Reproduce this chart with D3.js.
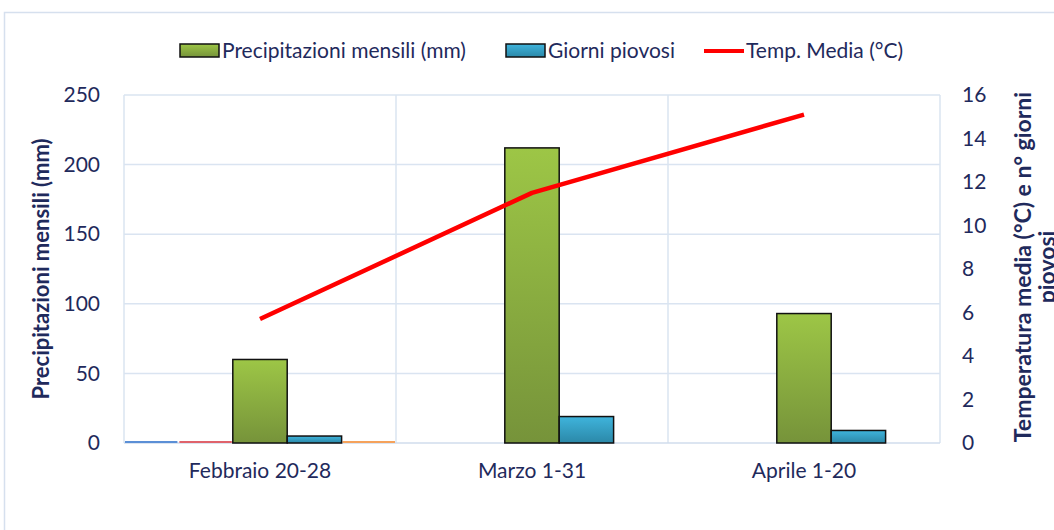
<!DOCTYPE html>
<html>
<head>
<meta charset="utf-8">
<script src="https://cdn.jsdelivr.net/npm/d3@7"></script>
<style>
  body { margin: 0; background: #fff; }
  svg { display: block; font-family: Lato, "Open Sans", sans-serif; }
</style>
</head>
<body>
<svg id="chart" width="1054" height="530"></svg>
<script>
// data
const categories = ["Febbraio 20-28", "Marzo 1-31", "Aprile 1-20"]
const precipitazioni = [60, 212, 93]
const giorniPiovosi = [5, 19, 9]
const tempMedia = [5.7, 11.5, 15.1]
// empty series that only show as a flat line on the first category
const serieVuota1 = [0, null, null]
const serieVuota2 = [0, null, null]
const serieVuota3 = [0, null, null]
const leftTicks = [0, 50, 100, 150, 200, 250]
const rightTicks = [0, 2, 4, 6, 8, 10, 12, 14, 16]

const svg = d3.select("#chart")
const textColor = "#1f2a5c"
const fontSize = 21

const margin = { left: 124, right: 114, top: 95, bottom: 87 }
const width = 1054 - margin.left - margin.right
const height = 530 - margin.top - margin.bottom

// outer frame
svg.append("rect")
    .attr("x", 4.5).attr("y", 12.5)
    .attr("width", 1060).attr("height", 530)
    .attr("fill", "none")
    .attr("stroke", "#d6e0ee")
    .attr("stroke-width", 1.5)

const defs = svg.append("defs")
const gradGreen = defs.append("linearGradient").attr("id", "gGreen").attr("x1", 0).attr("x2", 0).attr("y1", 0).attr("y2", 1)
gradGreen.append("stop").attr("offset", "0%").attr("stop-color", "#9dc646")
gradGreen.append("stop").attr("offset", "100%").attr("stop-color", "#76933a")
const gradBlue = defs.append("linearGradient").attr("id", "gBlue").attr("x1", 0).attr("x2", 0).attr("y1", 0).attr("y2", 1)
gradBlue.append("stop").attr("offset", "0%").attr("stop-color", "#3fb4dc")
gradBlue.append("stop").attr("offset", "100%").attr("stop-color", "#2b88a8")

const g = svg.append("g").attr("transform", "translate(" + margin.left + "," + margin.top + ")")

const x = d3.scaleBand().domain(categories).range([0, width]).paddingInner(0).paddingOuter(0)
const slots = d3.scaleBand().domain([0, 1, 2, 3, 4]).range([0, x.bandwidth()]).padding(0)
const yLeft = d3.scaleLinear().domain([0, 250]).range([height, 0])
const yRight = d3.scaleLinear().domain([0, 16]).range([height, 0])

// gridlines
g.append("g")
    .selectAll("line")
    .data(leftTicks.slice(1))
    .enter()
    .append("line")
    .attr("x1", 0).attr("x2", width)
    .attr("y1", d => yLeft(d)).attr("y2", d => yLeft(d))
    .attr("stroke", "#dae4f1").attr("stroke-width", 1.5)

g.append("g")
    .selectAll("line")
    .data([...categories.map(c => x(c)), width])
    .enter()
    .append("line")
    .attr("x1", d => d).attr("x2", d => d)
    .attr("y1", 0).attr("y2", height)
    .attr("stroke", "#dae4f1").attr("stroke-width", 1.5)

g.append("line")
    .attr("x1", 0).attr("x2", width)
    .attr("y1", height).attr("y2", height)
    .attr("stroke", "#d0dcec").attr("stroke-width", 1.5)

// the empty series
const vuote = [[serieVuota1, "#5b8fd6", 0], [serieVuota2, "#e0636b", 1], [serieVuota3, "#f5a25b", 4]]
vuote.forEach(([vals, col, slot]) => {
    g.append("g")
        .selectAll("line")
        .data(categories.map((c, i) => [c, vals[i]]).filter(d => d[1] !== null))
        .enter()
        .append("line")
        .attr("x1", d => x(d[0]) + slots(slot) + 1)
        .attr("x2", d => x(d[0]) + slots(slot) + slots.bandwidth() - 1)
        .attr("y1", d => yLeft(d[1]) - 1).attr("y2", d => yLeft(d[1]) - 1)
        .attr("stroke", col).attr("stroke-width", 2)
})

// bars
g.append("g")
    .selectAll("rect")
    .data(categories.map((c, i) => [c, precipitazioni[i]]))
    .enter()
    .append("rect")
    .attr("x", d => x(d[0]) + slots(2))
    .attr("y", d => yLeft(d[1]))
    .attr("width", slots.bandwidth())
    .attr("height", d => height - yLeft(d[1]))
    .attr("fill", "url(#gGreen)")
    .attr("stroke", "#111").attr("stroke-width", 1.5)

g.append("g")
    .selectAll("rect")
    .data(categories.map((c, i) => [c, giorniPiovosi[i]]))
    .enter()
    .append("rect")
    .attr("x", d => x(d[0]) + slots(3))
    .attr("y", d => yLeft(d[1]))
    .attr("width", slots.bandwidth())
    .attr("height", d => height - yLeft(d[1]))
    .attr("fill", "url(#gBlue)")
    .attr("stroke", "#111").attr("stroke-width", 1.5)

// temperature line
const line = d3.line()
    .x((d, i) => x(categories[i]) + x.bandwidth() / 2)
    .y(d => yRight(d))

g.append("path")
    .datum(tempMedia)
    .attr("d", line)
    .attr("fill", "none")
    .attr("stroke", "#ff0000")
    .attr("stroke-width", 4.5)
    .attr("stroke-linejoin", "round")

// axes
const axisLeft = g.append("g")
    .call(d3.axisLeft(yLeft).tickValues(leftTicks).tickSize(0).tickPadding(24))
axisLeft.select(".domain").remove()
axisLeft.selectAll("text").attr("font-size", fontSize).attr("fill", textColor)

const axisRight = g.append("g")
    .attr("transform", "translate(" + width + ",0)")
    .call(d3.axisRight(yRight).tickValues(rightTicks).tickSize(0).tickPadding(22))
axisRight.select(".domain").remove()
axisRight.selectAll("text").attr("font-size", fontSize).attr("fill", textColor)

const axisBottom = g.append("g")
    .attr("transform", "translate(0," + height + ")")
    .call(d3.axisBottom(x).tickSize(0).tickPadding(20))
axisBottom.select(".domain").remove()
axisBottom.selectAll("text").attr("font-size", fontSize).attr("fill", textColor)

// let the svg font apply to the axes too
g.selectAll("g").filter(function () { return this.getAttribute("font-family") }).attr("font-family", null)

// axis titles
svg.append("text")
    .attr("transform", "translate(49," + (margin.top + height / 2) + ") rotate(-90)")
    .attr("text-anchor", "middle")
    .attr("font-size", 22).attr("font-weight", "bold")
    .attr("fill", textColor)
    .text("Precipitazioni mensili (mm)")

const rt = svg.append("text")
    .attr("transform", "translate(1031," + (margin.top + height / 2 - 2) + ") rotate(-90)")
    .attr("text-anchor", "middle")
    .attr("font-size", 23).attr("font-weight", "bold")
    .attr("fill", textColor)
rt.append("tspan").attr("x", 0).attr("y", 0).text("Temperatura media (°C) e n° giorni")
rt.append("tspan").attr("x", 0).attr("y", 24).text("piovosi")

// legend
const legend = svg.append("g").attr("font-size", fontSize).attr("fill", textColor)
const items = [
    { label: "Precipitazioni mensili (mm)", type: "rect", fill: "url(#gGreen)", x: 180 },
    { label: "Giorni piovosi", type: "rect", fill: "url(#gBlue)", x: 506 },
    { label: "Temp. Media (°C)", type: "line", fill: "#ff0000", x: 704 }
]
items.forEach(it => {
    if (it.type === "rect") {
        legend.append("rect")
            .attr("x", it.x).attr("y", 44)
            .attr("width", 39).attr("height", 13)
            .attr("fill", it.fill)
            .attr("stroke", "#111").attr("stroke-width", 1.5)
    } else {
        legend.append("line")
            .attr("x1", it.x).attr("x2", it.x + 40)
            .attr("y1", 51).attr("y2", 51)
            .attr("stroke", it.fill).attr("stroke-width", 4)
    }
    legend.append("text")
        .attr("x", it.x + 42).attr("y", 58)
        .attr("fill", textColor)
        .text(it.label)
})
</script>
</body>
</html>
